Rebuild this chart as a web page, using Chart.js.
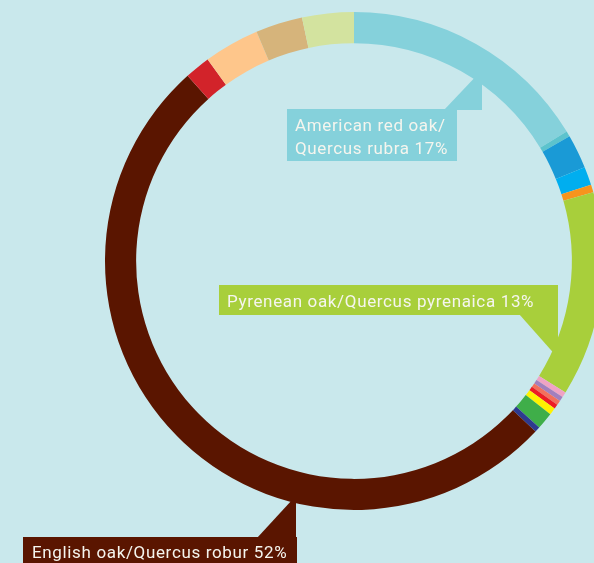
<!DOCTYPE html>
<html>
<head>
<meta charset="utf-8">
<script src="https://cdn.jsdelivr.net/npm/chart.js@4/dist/chart.umd.min.js"></script>
<style>
  html, body { margin: 0; padding: 0; background: #c9e8ec; overflow: hidden; }
  #wrap { position: absolute; left: 0; top: 0; width: 708px; height: 563px; }
</style>
</head>
<body>
<div id="wrap"><canvas id="c" width="708" height="563"></canvas></div>
<script>
// Species (clockwise from 12 o'clock)
const species = [
  "American red oak/Quercus rubra", "Other 1", "Other 2", "Other 3", "Other 4",
  "Pyrenean oak/Quercus pyrenaica", "Other 5", "Other 6", "Other 7", "Other 8",
  "Other 9", "Other 10", "Other 11", "English oak/Quercus robur",
  "Other 12", "Other 13", "Other 14", "Other 15"
];
// Share of each slice (%) as read from the ring
const shares = [16.3, 0.35, 2.2, 1.2, 0.5, 13.3, 0.35, 0.3, 0.3, 0.3, 0.45, 1.1, 0.35, 51.35, 1.65, 3.6, 3.05, 3.35];
const sliceColors = [
  "#85d1db", "#5cc3cd", "#1a9ad6", "#00aeef", "#f7941d", "#a8cf3b",
  "#f0a3c4", "#a37fbd", "#f36f5c", "#ed1c24", "#fff200", "#3fae49", "#2e3a8f",
  "#5a1500", "#d2232a", "#fec68b", "#d6b47b", "#d3e39f"
];
// Callout labels
const calloutLines = [
  ["American red oak/", "Quercus rubra 17%"],
  ["Pyrenean oak/Quercus pyrenaica 13%"],
  ["English oak/Quercus robur 52%"]
];

const calloutPlugin = {
  id: 'callouts',
  afterDraw(chart) {
    const ctx = chart.ctx;
    ctx.save();
    const boxes = [
      { color: sliceColors[0], rect: [287, 109, 170, 52], tri: [[444,110],[482,110],[482,72],[480,72]],
        lines: calloutLines[0], x: 295, ys: [131, 154] },
      { color: sliceColors[5], rect: [219, 285, 339, 30], tri: [[519,314],[558,314],[558,358]],
        lines: calloutLines[1], x: 227, ys: [307] },
      { color: sliceColors[13], rect: [23, 537, 274, 30], tri: [[257,538],[296,538],[296,500],[292,500]],
        lines: calloutLines[2], x: 32, ys: [558] }
    ];
    for (const b of boxes) {
      ctx.fillStyle = b.color;
      ctx.fillRect(...b.rect);
      ctx.beginPath();
      ctx.moveTo(...b.tri[0]);
      for (let i = 1; i < b.tri.length; i++) ctx.lineTo(...b.tri[i]);
      ctx.closePath();
      ctx.fill();
      ctx.fillStyle = "#f5f5ee";
      ctx.font = "17px Roboto";
      try { ctx.letterSpacing = "0.65px"; } catch (e) {}
      ctx.textBaseline = "alphabetic";
      ctx.textAlign = "left";
      b.lines.forEach((t, i) => ctx.fillText(t, b.x, b.ys[i]));
    }
    ctx.restore();
  }
};

new Chart(document.getElementById('c'), {
  type: 'doughnut',
  data: {
    labels: species,
    datasets: [{
      data: shares,
      backgroundColor: sliceColors,
      borderWidth: 0,
      hoverOffset: 0
    }]
  },
  options: {
    responsive: false,
    devicePixelRatio: 1,
    animation: false,
    cutout: '87.5%',
    rotation: 0,
    circumference: 360,
    layout: { padding: { left: 12, right: 12, top: 12, bottom: 53 } },
    plugins: { legend: { display: false }, tooltip: { enabled: false } }
  },
  plugins: [calloutPlugin]
});
</script>
</body>
</html>
